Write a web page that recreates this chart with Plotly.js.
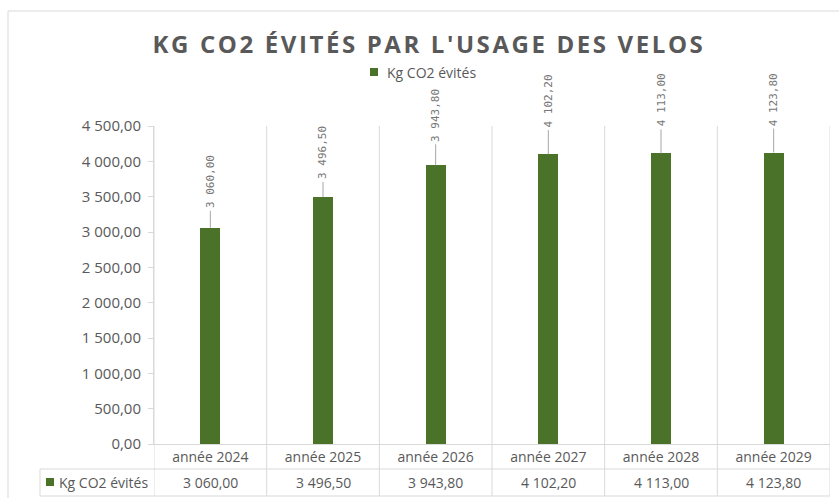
<!DOCTYPE html>
<html>
<head>
<meta charset="utf-8">
<script src="https://cdn.plot.ly/plotly-3.0.1.min.js"></script>
<style>
html,body{margin:0;padding:0;background:#fff;}
#chart{width:839px;height:498px;}
</style>
</head>
<body>
<div id="chart"></div>
<script>
// ---- data ----
const chartTitle = "KG CO2 ÉVITÉS PAR L'USAGE DES VELOS";
const seriesName = 'Kg CO2 évités';
const categories = ['année 2024', 'année 2025', 'année 2026', 'année 2027', 'année 2028', 'année 2029'];
const values = [3060.00, 3496.50, 3943.80, 4102.20, 4113.00, 4123.80];
const yTickValues = [0, 500, 1000, 1500, 2000, 2500, 3000, 3500, 4000, 4500];

// ---- styling ----
const labelOffsets = [-46, -44, -50, -53, -53, -53];
const green = '#4a7229';
const grid = '#d9d9d9';
const textGray = '#595959';
const font = 'Open Sans, Noto Sans, sans-serif';

const W = 839, H = 498;
const L = 154, R = 830, T = 126, B = 444;
const px = x => (x - L) / (R - L);
const py = y => (B - y) / (B - T);

function fmt(v) {
  const parts = v.toFixed(2).split('.');
  const intPart = parts[0].replace(/\B(?=(\d{3})+(?!\d))/g, ' ');
  return intPart + ',' + parts[1];
}

const trace = {
  type: 'bar',
  x: categories,
  y: values,
  name: seriesName,
  marker: {color: green},
  width: 0.18,
  hoverinfo: 'x+y',
  showlegend: false
};

const shapes = [];
const annotations = [];

// outer chart border
shapes.push({type: 'rect', xref: 'paper', yref: 'paper', x0: px(8), x1: px(845), y0: py(11), y1: py(505),
  line: {color: grid, width: 1}, fillcolor: 'rgba(0,0,0,0)', layer: 'below'});

// vertical gridlines at category boundaries, extended through the data table
for (let i = 0; i <= categories.length; i++) {
  shapes.push({type: 'line', xref: 'x', yref: 'paper', x0: i - 0.5, x1: i - 0.5, y0: py(T), y1: py(496),
    line: {color: grid, width: 1}, layer: 'below'});
}
// table lines
shapes.push({type: 'line', xref: 'paper', yref: 'paper', x0: px(40), x1: px(R), y0: py(469), y1: py(469), line: {color: grid, width: 1}});
shapes.push({type: 'line', xref: 'paper', yref: 'paper', x0: px(40), x1: px(R), y0: py(496), y1: py(496), line: {color: grid, width: 1}});
shapes.push({type: 'line', xref: 'paper', yref: 'paper', x0: px(40), x1: px(40), y0: py(469), y1: py(496), line: {color: grid, width: 1}});
// legend key in table
shapes.push({type: 'rect', xref: 'paper', yref: 'paper', x0: px(46), x1: px(54), y0: py(478), y1: py(486),
  line: {width: 0}, fillcolor: green});
annotations.push({xref: 'paper', yref: 'paper', x: px(57), y: py(482.5), xanchor: 'left', yanchor: 'middle',
  text: seriesName, showarrow: false, font: {family: font, size: 14, color: textGray}});

// top legend
shapes.push({type: 'rect', xref: 'paper', yref: 'paper', x0: px(370), x1: px(378), y0: py(68), y1: py(76),
  line: {width: 0}, fillcolor: green});
annotations.push({xref: 'paper', yref: 'paper', x: px(385), y: py(72), xanchor: 'left', yanchor: 'middle',
  text: seriesName, showarrow: false, font: {family: font, size: 14, color: textGray}});

// table values and data labels
categories.forEach((c, i) => {
  annotations.push({xref: 'x', yref: 'paper', x: c, y: py(482.5), xanchor: 'center', yanchor: 'middle',
    text: fmt(values[i]), showarrow: false, font: {family: font, size: 14, color: textGray}});
  annotations.push({xref: 'x', yref: 'y', x: c, y: values[i], text: fmt(values[i]), textangle: -90,
    showarrow: true, arrowhead: 0, arrowwidth: 1, arrowcolor: '#a6a6a6', ax: 0, ay: labelOffsets[i],
    standoff: 0, borderpad: 2,
    font: {family: 'DejaVu Sans Mono, monospace', size: 11, color: '#767676'}});
});

const layout = {
  width: W, height: H, autosize: false,
  margin: {l: L, r: W - R, t: T, b: H - B, pad: 0},
  paper_bgcolor: '#fff', plot_bgcolor: '#fff',
  separators: ', ',
  title: {text: '<span style="letter-spacing:2.6px">' + chartTitle + '</span>', x: 429 / W, xanchor: 'center', y: 1 - 45 / H, yanchor: 'middle',
    xref: 'container', yref: 'container',
    font: {family: font, size: 24, color: textGray, weight: 'bold'}},
  showlegend: false,
  xaxis: {type: 'category', showgrid: false, showline: true, linecolor: grid, linewidth: 1,
    ticks: '', tickfont: {family: font, size: 14, color: textGray}, ticklabelstandoff: 0,
    fixedrange: true, range: [-0.5, categories.length - 0.5]},
  yaxis: {range: [0, 4500], tickvals: yTickValues, tickformat: ',.2f', showgrid: false, zeroline: false,
    showline: true, linecolor: grid, linewidth: 1, ticks: 'outside', ticklen: 5, tickcolor: grid,
    tickfont: {family: font, size: 15, color: textGray}, ticklabelstandoff: 4, fixedrange: true},
  bargap: 0,
  shapes: shapes,
  annotations: annotations
};

Plotly.newPlot('chart', [trace], layout, {displayModeBar: false, staticPlot: true});
</script>
</body>
</html>
